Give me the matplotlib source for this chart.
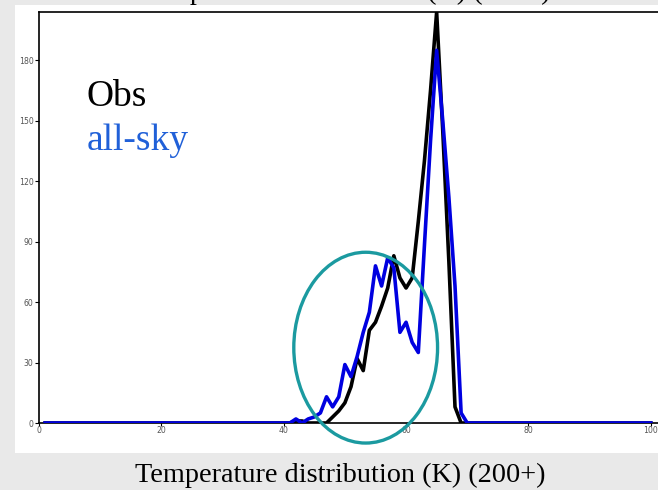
import numpy as np
import matplotlib.pyplot as plt
from matplotlib.patches import Ellipse, Rectangle

# Histogram bins (K above 200), counts are zero outside 40-70
temp_bins = list(range(1, 101))
window_start = 40
obs_window = [0, 0, 1, 1, 0, 0, 0, 0, 3, 6, 10, 18, 32, 26, 46, 50, 58, 67, 83, 72,
              67, 72, 100, 130, 165, 204, 145, 80, 8, 0, 0]
allsky_window = [0, 0, 2, 0, 2, 3, 5, 13, 8, 13, 29, 23, 33, 45, 55, 78, 68, 82, 77, 45,
                 50, 40, 35, 88, 140, 185, 150, 112, 68, 5, 0]

x_ticks = [0, 20, 40, 60, 80, 100]
y_ticks = [0, 30, 60, 90, 120, 150, 180]
title_text = 'Temperature distribution (K) (200+)'


def pad_counts(window):
    counts = [0] * len(temp_bins)
    for i, v in enumerate(window):
        counts[window_start - 1 + i] = v
    return counts


obs_counts = pad_counts(obs_window)
allsky_counts = pad_counts(allsky_window)

W, H = 658, 490
fig = plt.figure(figsize=(W / 100, H / 100), dpi=100)
fig.patch.set_facecolor('#e9e9e9')

# white slide panel behind the plot
fig.patches.append(Rectangle((15 / W, 1 - 453 / H), 1 - 15 / W, (453 - 5) / H,
                             transform=fig.transFigure, facecolor='white',
                             edgecolor='none', zorder=-5))

ax = fig.add_axes([39 / W, (H - 423) / H, 624 / W, 411 / H])
ax.set_zorder(2)
ax.set_facecolor('white')

ax.plot(temp_bins, obs_counts, color='black', lw=2.6, zorder=3)
ax.plot(temp_bins, allsky_counts, color='#0000e0', lw=2.6, zorder=4)

ax.set_xlim(0, 102)
ax.set_ylim(0, 204)
ax.set_xticks(x_ticks)
ax.set_yticks(y_ticks)
ax.tick_params(axis='both', labelsize=5.6, labelcolor='#555555', color='black', width=0.8)
ax.tick_params(axis='y', length=3, pad=1)
ax.tick_params(axis='x', length=2, pad=0.5)
for side in ['left', 'bottom', 'top']:
    ax.spines[side].set_linewidth(1.2)
ax.spines['right'].set_visible(False)

# highlight ellipse
ax.add_patch(Ellipse((53.4, 37.4), 23.5, 94.7, fill=False, edgecolor='#1b9aa0',
                     lw=2.4, clip_on=False, zorder=5))

fig.text(87 / W, 1 - 106 / H, 'Obs', family='Liberation Serif', fontsize=27,
         color='black', va='baseline', zorder=10)
fig.text(87 / W, 1 - 150 / H, 'all-sky', family='Liberation Serif', fontsize=27,
         color='#2060d8', va='baseline', zorder=10)

fig.text(340 / W, 1 - 482 / H, title_text, family='Liberation Serif', fontsize=20.3,
         color='black', ha='center', va='baseline')
# the title of the chart above, cut by the frame
fig.text(345 / W, 1 + 1 / H, title_text, family='Liberation Serif', fontsize=20.3,
         color='black', ha='center', va='baseline')

fig.savefig('out.png', dpi=100)
